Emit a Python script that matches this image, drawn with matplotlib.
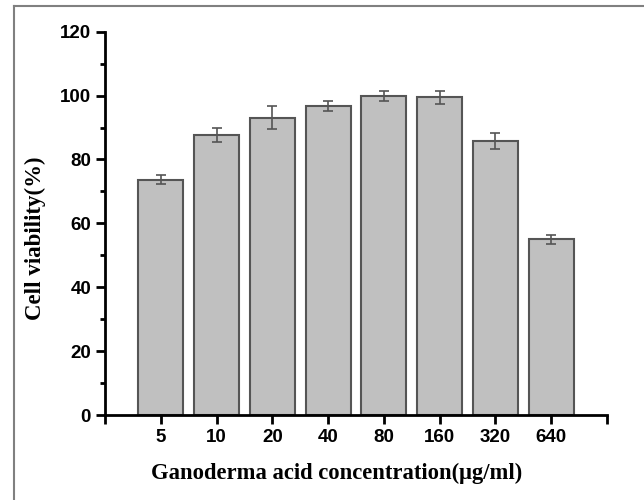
import matplotlib
matplotlib.use("Agg")
import matplotlib.pyplot as plt
import matplotlib.lines as mlines

# data
concentrations = ['5', '10', '20', '40', '80', '160', '320', '640']
viability = [73.7, 87.7, 93.1, 96.7, 99.8, 99.4, 85.8, 55.0]
errors = [1.3, 2.1, 3.5, 1.5, 1.5, 2.1, 2.5, 1.5]

fig = plt.figure(figsize=(6.44, 5.0), dpi=100)
ax = fig.add_axes([105/644, 1-415/500, (607-105)/644, (415-31.7)/500])

pos = list(range(1, len(concentrations) + 1))
ax.bar(pos, viability, width=0.81, color='#c0c0c0', edgecolor='#555555', linewidth=1.5, zorder=2)
ax.errorbar(pos, viability, yerr=errors, fmt='none', ecolor='#555555', elinewidth=1.2,
            capsize=3.5, capthick=1.2, zorder=3)

ax.set_xlim(0, len(concentrations) + 1)
ax.set_ylim(0, 120)
ax.set_xticks([0] + pos + [len(concentrations) + 1])
ax.set_xticklabels([''] + concentrations + [''])
ax.set_yticks(range(0, 121, 20))
ax.set_yticks(range(10, 120, 20), minor=True)

for s in ['top', 'right']:
    ax.spines[s].set_visible(False)
for s in ['left', 'bottom']:
    ax.spines[s].set_linewidth(2)
ax.tick_params(axis='both', which='major', direction='out', length=6.5, width=2,
               labelsize=13.5, pad=3.5)
ax.tick_params(axis='y', which='minor', direction='out', length=3.6, width=2)
for lab in ax.get_xticklabels() + ax.get_yticklabels():
    lab.set_fontweight('bold')
    lab.set_fontfamily('Liberation Sans')

fig.text(35/644, 1-238/500, 'Cell viability(%)', rotation=90, ha='center', va='center',
         fontsize=16.5, fontweight='bold', family='Liberation Serif')
fig.text(337/644, 1-473/500, 'Ganoderma acid concentration(\u03bcg/ml)', ha='center', va='center',
         fontsize=16.3, fontweight='bold', family='Liberation Serif')

# outer frame (left and top edges visible)
fig.add_artist(mlines.Line2D([14/644, 14/644], [0, 1-6/500], color='#808080', linewidth=1.5))
fig.add_artist(mlines.Line2D([14/644, 1], [1-6/500, 1-6/500], color='#808080', linewidth=1.5))

fig.savefig('out.png', dpi=100)
